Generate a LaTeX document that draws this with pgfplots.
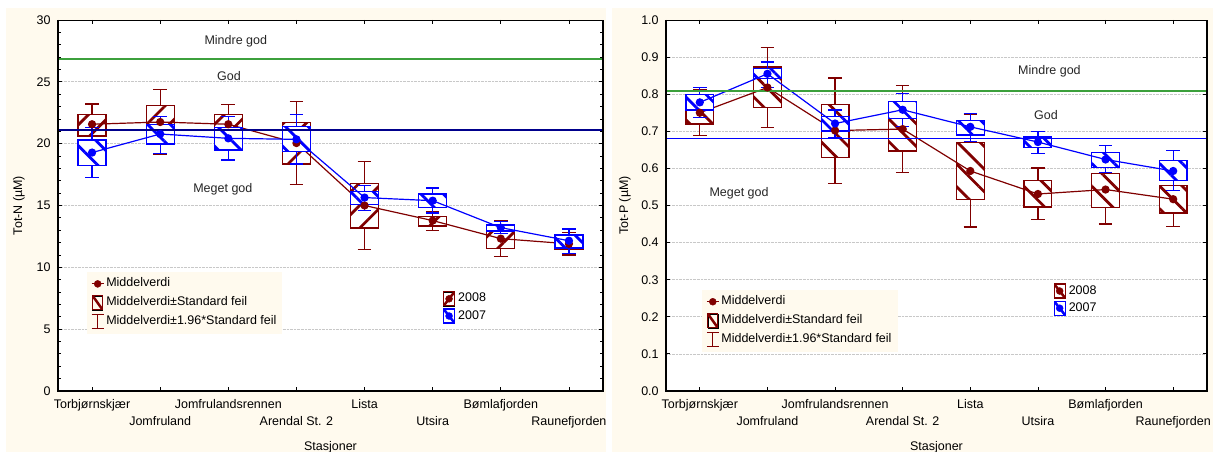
\documentclass[border=0pt]{standalone}
\usepackage{fontspec}
\setmainfont{Liberation Sans}
\usepackage{pgfplots}
\usepackage{pgfplotstable}
\pgfplotsset{compat=1.18}
\usepgfplotslibrary{statistics}
\usetikzlibrary{patterns.meta}

\definecolor{dred}{RGB}{128,0,0}
\definecolor{sblue}{RGB}{0,0,255}
\definecolor{navyl}{RGB}{0,0,140}
\definecolor{lgreen}{RGB}{60,160,60}
\definecolor{cream}{RGB}{255,250,238}
\definecolor{gridc}{RGB}{200,200,200}

% Tot-N, 2008
\pgfplotstableread{
pos lw lq mean uq uw
0 19.85 20.62 21.57 22.38 23.21
1 19.10 20.40 21.75 23.07 24.40
2 20.00 20.80 21.57 22.35 23.16
3 16.72 18.36 20.05 21.73 23.40
4 11.43 13.19 15.00 16.80 18.55
5 12.97 13.35 13.78 14.10 14.48
6 10.90 11.54 12.32 12.97 13.75
7 11.00 11.43 11.90 12.37 12.80
}\NA
% Tot-N, 2007
\pgfplotstableread{
pos lw lq mean uq uw
0 17.28 18.25 19.28 20.30 21.30
1 19.22 19.97 20.78 21.54 22.22
2 18.68 19.49 20.43 21.32 22.18
3 18.35 19.35 20.35 21.38 22.38
4 14.62 15.10 15.64 16.12 16.60
5 14.40 14.86 15.39 15.93 16.42
6 12.72 12.94 13.21 13.43 13.70
7 11.10 11.57 12.15 12.62 13.10
}\NB
% Tot-P, 2008
\pgfplotstableread{
pos lw lq mean uq uw
0 0.689 0.720 0.750 0.780 0.813
1 0.711 0.764 0.818 0.873 0.925
2 0.559 0.630 0.702 0.773 0.844
3 0.588 0.647 0.706 0.765 0.824
4 0.442 0.516 0.593 0.670 0.745
5 0.462 0.496 0.531 0.567 0.601
6 0.450 0.495 0.543 0.586 0.632
7 0.444 0.480 0.517 0.553 0.589
}\PA
% Tot-P, 2007
\pgfplotstableread{
pos lw lq mean uq uw
0 0.737 0.757 0.778 0.800 0.818
1 0.818 0.842 0.855 0.870 0.887
2 0.683 0.701 0.721 0.739 0.757
3 0.712 0.734 0.758 0.780 0.802
4 0.672 0.690 0.712 0.730 0.748
5 0.640 0.656 0.671 0.685 0.699
6 0.588 0.603 0.624 0.642 0.661
7 0.540 0.568 0.593 0.622 0.649
}\PB

\pgfplotsset{
  hbox/.style 2 args={
    draw=#1, line width=1.3bp, solid,
    boxplot/draw direction=y,
    boxplot/box extend=0.41,
    boxplot/whisker extend=0.2,
    boxplot/draw/median/.code={},
    boxplot/every box/.style={fill=white, postaction={pattern={Lines[angle=#2,distance=16bp,line width=2.8bp]}, pattern color=#1}},
  },
  meanline/.style={#1, line width=1.2bp, mark=*, mark size=3.5bp, mark options={solid, fill=#1}},
  panel/.style={
    scale only axis,
    anchor=south west,
    height=371bp,
    xmin=-0.5, xmax=7.5,
    xtick={0,...,7},
    xticklabels={{\strut Torbjørnskjær},{\strut\\Jomfruland},{\strut Jomfrulandsrennen},{\strut\\Arendal St. 2},{\strut Lista},{\strut\\Utsira},{\strut Bømlafjorden},{\strut\\Raunefjorden}},
    xticklabel style={align=center, yshift=-1bp},
    yticklabel style={xshift=-3bp},
    /pgf/number format/assume math mode=true,
    tick align=inside,
    major tick length=4bp,
    minor tick length=2.5bp,
    tick style={black, line width=0.8bp},
    axis line style={black, line width=0.8bp},
    axis background/.style={fill=white},
    ymajorgrids,
    major grid style={gridc, densely dotted, line width=0.7bp},
    xlabel={Stasjoner},
    xlabel style={at={(axis description cs:0.5,-0.152)}, anchor=center},
    legend cell align=left,
    after end axis/.code={\draw[black, line width=1.8bp] (rel axis cs:0,1) -- (rel axis cs:0,0) -- (rel axis cs:1,0) -- (rel axis cs:1,1);},
  },
  mainleg/.style={legend style={draw=none, fill=cream, inner sep=4bp, row sep=3bp,
      nodes={inner sep=2bp, text height=9bp, text depth=3bp}}},
  yearleg/.style={legend style={draw=none, fill=none, inner sep=0pt, row sep=2bp,
      nodes={inner ysep=1.5bp, inner xsep=3bp, text height=9bp, text depth=3bp}}},
}

% one prepared box (mean +- SE as box, mean +- 1.96 SE as whiskers) from a table row
\newcommand\boxrow[4]{%
  \pgfplotstablegetelem{#2}{lw}\of#1\edef\vlw{\pgfplotsretval}%
  \pgfplotstablegetelem{#2}{lq}\of#1\edef\vlq{\pgfplotsretval}%
  \pgfplotstablegetelem{#2}{mean}\of#1\edef\vmd{\pgfplotsretval}%
  \pgfplotstablegetelem{#2}{uq}\of#1\edef\vuq{\pgfplotsretval}%
  \pgfplotstablegetelem{#2}{uw}\of#1\edef\vuw{\pgfplotsretval}%
  \edef\temp{\noexpand\addplot[hbox={#3}{#4}, boxplot prepared={draw position=#2, lower whisker=\vlw, lower quartile=\vlq, median=\vmd, upper quartile=\vuq, upper whisker=\vuw}] coordinates {};}%
  \temp
}

\begin{document}%
\fontsize{12.5bp}{17bp}\selectfont%
\begin{tikzpicture}[font=\fontsize{12.5bp}{17bp}\selectfont]
\fill[white] (0,0) rectangle (1216bp,452bp);
\fill[cream] (6bp,0) rectangle (606bp,444bp);
\fill[cream] (612bp,0) rectangle (1213bp,444bp);

% ================= LEFT PANEL: Tot-N =================
\begin{axis}[panel, at={(58bp,61bp)}, width=545bp,
  ymin=0, ymax=30, ytick={0,5,10,15,20,25,30}, minor y tick num=4,
  ylabel={Tot-N (µM)},
  ylabel style={at={(axis description cs:-0.0716,0.5)}, anchor=center},
  mainleg,
  legend style={at={(axis description cs:0.053,0.3216)}, anchor=north west},
  legend entries={Middelverdi, Middelverdi±Standard feil, Middelverdi±1.96*Standard feil},
]
\addlegendimage{legend image code/.code={\draw[dred, line width=1.2bp] (0bp,0) -- (12bp,0); \fill[dred] (6bp,0) circle (3.5bp);}}
\addlegendimage{legend image code/.code={\begin{scope}\clip (1bp,-7bp) rectangle (11bp,7bp); \draw[dred, line width=2.5bp] (1bp,7bp) -- (11bp,-7bp);\end{scope}\draw[dred, line width=1.2bp] (1bp,-7bp) rectangle (11bp,7bp);}}
\addlegendimage{legend image code/.code={\draw[dred, line width=1.2bp] (6bp,-7bp) -- (6bp,7bp) (0bp,7bp) -- (12bp,7bp) (0bp,-7bp) -- (12bp,-7bp);}}

\pgfplotsinvokeforeach{0,...,7}{\boxrow{\NA}{#1}{dred}{45}}
\addplot[meanline=dred] table[x=pos, y=mean] {\NA};
\pgfplotsinvokeforeach{0,...,7}{\boxrow{\NB}{#1}{sblue}{-45}}
\addplot[meanline=sblue] table[x=pos, y=mean] {\NB};

\addplot[lgreen, line width=2.2bp] coordinates {(-0.5,26.87) (7.5,26.87)};
\addplot[navyl, line width=1.3bp] coordinates {(-0.5,21.1) (7.5,21.1)};

\node[text=black!85] at (axis cs:2.11,28.3) {Mindre god};
\node[text=black!85] at (axis cs:2.01,25.5) {God};
\node[text=black!85] at (axis cs:1.92,16.3) {Meget god};
\end{axis}

\begin{axis}[scale only axis, anchor=south west, at={(58bp,61bp)}, width=545bp, height=371bp,
  hide axis, xmin=0, xmax=1, ymin=0, ymax=1, legend cell align=left,
  yearleg,
  legend style={at={(axis description cs:0.706,0.2695)}, anchor=north west},
  legend entries={2008, 2007}]
\addlegendimage{legend image code/.code={\fill[white] (0bp,-7bp) rectangle (11bp,7bp);\begin{scope}\clip (0bp,-7bp) rectangle (11bp,7bp); \draw[dred, line width=2.5bp] (0bp,-7bp) -- (11bp,7bp);\end{scope}\draw[dred, line width=1.2bp] (0bp,-7bp) rectangle (11bp,7bp); \fill[dred] (5.5bp,0) circle (3.5bp);}}
\addlegendimage{legend image code/.code={\fill[white] (0bp,-7bp) rectangle (11bp,7bp);\begin{scope}\clip (0bp,-7bp) rectangle (11bp,7bp); \draw[sblue, line width=2.5bp] (0bp,7bp) -- (11bp,-7bp);\end{scope}\draw[sblue, line width=1.2bp] (0bp,-7bp) rectangle (11bp,7bp); \fill[sblue] (5.5bp,0) circle (3.5bp);}}
\end{axis}

% ================= RIGHT PANEL: Tot-P =================
\begin{axis}[panel, at={(666bp,61bp)}, width=541bp,
  ymin=0, ymax=1, ytick={0,0.1,0.2,0.3,0.4,0.5,0.6,0.7,0.8,0.9,1.0},
  ylabel={Tot-P (µM)},
  ylabel style={at={(axis description cs:-0.0758,0.5)}, anchor=center},
  yticklabel style={/pgf/number format/.cd, fixed, fixed zerofill, precision=1},
  mainleg,
  legend style={at={(axis description cs:0.0665,0.2735)}, anchor=north west},
  legend entries={Middelverdi, Middelverdi±Standard feil, Middelverdi±1.96*Standard feil},
]
\addlegendimage{legend image code/.code={\draw[dred, line width=1.2bp] (0bp,0) -- (12bp,0); \fill[dred] (6bp,0) circle (3.5bp);}}
\addlegendimage{legend image code/.code={\begin{scope}\clip (1bp,-7bp) rectangle (11bp,7bp); \draw[dred, line width=2.5bp] (1bp,7bp) -- (11bp,-7bp);\end{scope}\draw[dred, line width=1.2bp] (1bp,-7bp) rectangle (11bp,7bp);}}
\addlegendimage{legend image code/.code={\draw[dred, line width=1.2bp] (6bp,-7bp) -- (6bp,7bp) (0bp,7bp) -- (12bp,7bp) (0bp,-7bp) -- (12bp,-7bp);}}

\pgfplotsinvokeforeach{0,...,7}{\boxrow{\PA}{#1}{dred}{-45}}
\addplot[meanline=dred] table[x=pos, y=mean] {\PA};
\pgfplotsinvokeforeach{0,...,7}{\boxrow{\PB}{#1}{sblue}{-45}}
\addplot[meanline=sblue] table[x=pos, y=mean] {\PB};

\addplot[lgreen, line width=2.2bp] coordinates {(-0.5,0.809) (7.5,0.809)};
\addplot[sblue, line width=1.3bp] coordinates {(-0.5,0.681) (7.5,0.681)};

\node[text=black!85] at (axis cs:5.17,0.861) {Mindre god};
\node[text=black!85] at (axis cs:5.12,0.744) {God};
\node[text=black!85] at (axis cs:0.58,0.534) {Meget god};
\end{axis}

\begin{axis}[scale only axis, anchor=south west, at={(666bp,61bp)}, width=541bp, height=371bp,
  hide axis, xmin=0, xmax=1, ymin=0, ymax=1, legend cell align=left,
  yearleg,
  legend style={at={(axis description cs:0.716,0.2905)}, anchor=north west},
  legend entries={2008, 2007}]
\addlegendimage{legend image code/.code={\fill[white] (0bp,-7bp) rectangle (11bp,7bp);\begin{scope}\clip (0bp,-7bp) rectangle (11bp,7bp); \draw[dred, line width=2.5bp] (0bp,7bp) -- (11bp,-7bp);\end{scope}\draw[dred, line width=1.2bp] (0bp,-7bp) rectangle (11bp,7bp); \fill[dred] (5.5bp,0) circle (3.5bp);}}
\addlegendimage{legend image code/.code={\fill[white] (0bp,-7bp) rectangle (11bp,7bp);\begin{scope}\clip (0bp,-7bp) rectangle (11bp,7bp); \draw[sblue, line width=2.5bp] (0bp,7bp) -- (11bp,-7bp);\end{scope}\draw[sblue, line width=1.2bp] (0bp,-7bp) rectangle (11bp,7bp); \fill[sblue] (5.5bp,0) circle (3.5bp);}}
\end{axis}

\pgfresetboundingbox
\useasboundingbox (0,0) rectangle (1216bp,452bp);
\end{tikzpicture}%
\end{document}
